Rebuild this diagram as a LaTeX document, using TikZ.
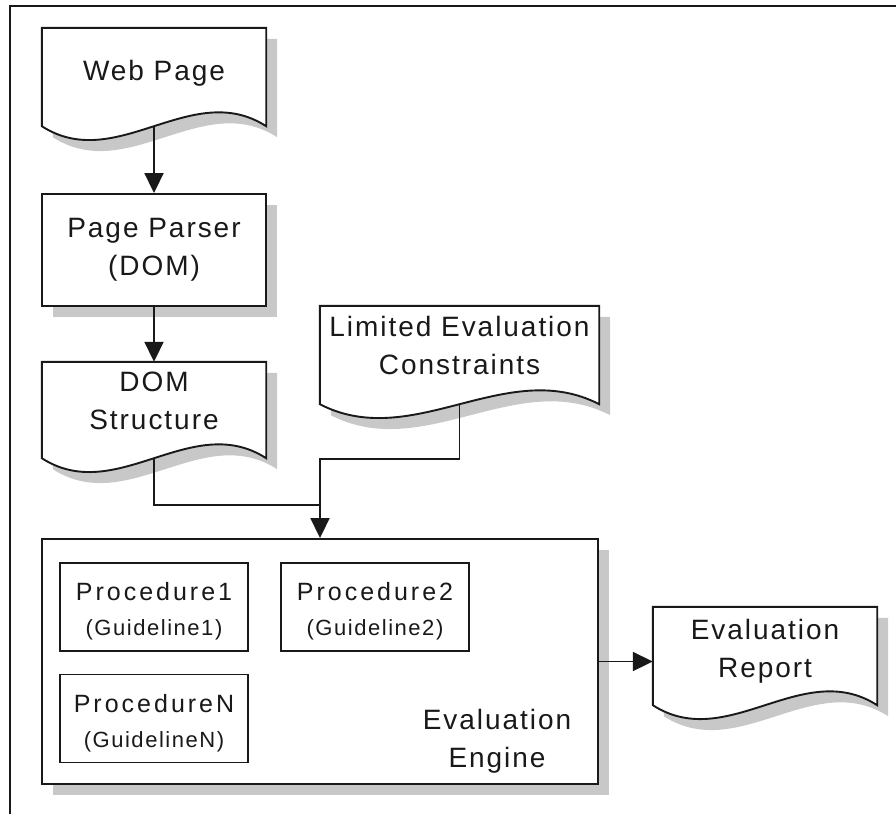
\documentclass[tikz,border=0pt]{standalone}
\usepackage{fontspec}
\setmainfont{Liberation Sans}
\newfontfamily\lblfont[LetterSpace=7]{Liberation Sans}
\newfontfamily\procfont[LetterSpace=12]{Liberation Sans}
\usetikzlibrary{arrows.meta,calc,shadows}
\definecolor{shade}{RGB}{200,200,200}
\definecolor{ink}{RGB}{25,25,25}

\tikzset{
  edge/.style={draw=ink, line width=1.9pt},
  flow/.style={edge, -{Triangle[length=20pt,width=19pt]}},
  boxshadow/.style={drop shadow={shadow xshift=11pt, shadow yshift=-11pt, fill=shade, opacity=1}},
  procbox/.style={rectangle, draw=ink, line width=1.9pt, fill=white, inner sep=0pt,
                  minimum width=188pt, minimum height=88pt},
  blockbox/.style={procbox, boxshadow},
  docbox/.style={rectangle, inner sep=0pt},
  docline/.style={edge, fill=white, boxshadow},
  lbl/.style={text=ink, align=center, inner sep=0pt,
              font=\lblfont\fontsize{28}{38}\selectfont},
  plbl/.style={text=ink, align=center, inner sep=0pt,
              font=\procfont\fontsize{25}{35}\selectfont},
}

% outline of a document symbol around a (borderless) node
\newcommand\docoutline[1]{%
  \draw[docline] (#1.north west) -- (#1.north east) -- (#1.south east)
    .. controls ($(#1.south east)!1/3!(#1.south west)+(0pt,48pt)$)
       and ($(#1.south east)!2/3!(#1.south west)+(0pt,-48pt)$) .. (#1.south west)
    -- cycle;}

\newcommand\proctext[2]{#1\\{\lblfont\fontsize{22}{35}\selectfont #2}}

\begin{document}
\begin{tikzpicture}[x=1pt,y=-1pt]
\useasboundingbox (0,0) rectangle (896,814);

% page frame
\draw[edge, line width=2.2pt] (10,814) -- (10,6) -- (896,6);

% document symbols
\node[docbox, minimum width=224pt, minimum height=98pt] (web) at (154,77) {};
\docoutline{web}
\node[lbl] (webtxt) at (154,73) {Web Page};

\node[blockbox, minimum width=224pt, minimum height=112pt] (parser) at (154,250) {};
\node[lbl] (parsertxt) at (154,250) {Page Parser\\(DOM)};

\node[docbox, minimum width=224pt, minimum height=96pt] (dom) at (154,410) {};
\docoutline{dom}
\node[lbl] (domtxt) at (154,401) {DOM\\Structure};

\node[docbox, minimum width=279pt, minimum height=98pt] (lim) at (459.5,355) {};
\docoutline{lim}
\node[lbl] (limtxt) at (459.5,345) {Limited Evaluation\\Constraints};

% evaluation engine with its procedures
\node[blockbox, minimum width=556pt, minimum height=245pt] (engine) at (320,661.5) {};
\node[procbox] (p1) at (154,607) {};
\node[plbl] (p1txt) at (154,611) {\proctext{Procedure1}{(Guideline1)}};
\node[procbox] (p2) at (375,607) {};
\node[plbl] (p2txt) at (375,611) {\proctext{Procedure2}{(Guideline2)}};
\node[procbox] (pN) at (154,718.5) {};
\node[plbl] (pNtxt) at (154,723) {\proctext{ProcedureN}{(GuidelineN)}};
\node[lbl] (enginetxt) at (497,741) {Evaluation\\Engine};

\node[docbox, minimum width=224pt, minimum height=98pt] (report) at (765,656) {};
\docoutline{report}
\node[lbl] (reporttxt) at (765,651) {Evaluation\\Report};

% connectors
\coordinate (join) at (320,459);
\coordinate (merge) at (320,505);
\draw[flow] (web.south) -- (parser.north);
\draw[flow] (parser.south) -- (dom.north);
\draw[edge] (dom.south) |- (merge);
\draw[flow] (lim.south) |- (join) -- (engine.north);
\draw[flow] (engine.east) -- (engine.east -| report.west);
\end{tikzpicture}
\end{document}
